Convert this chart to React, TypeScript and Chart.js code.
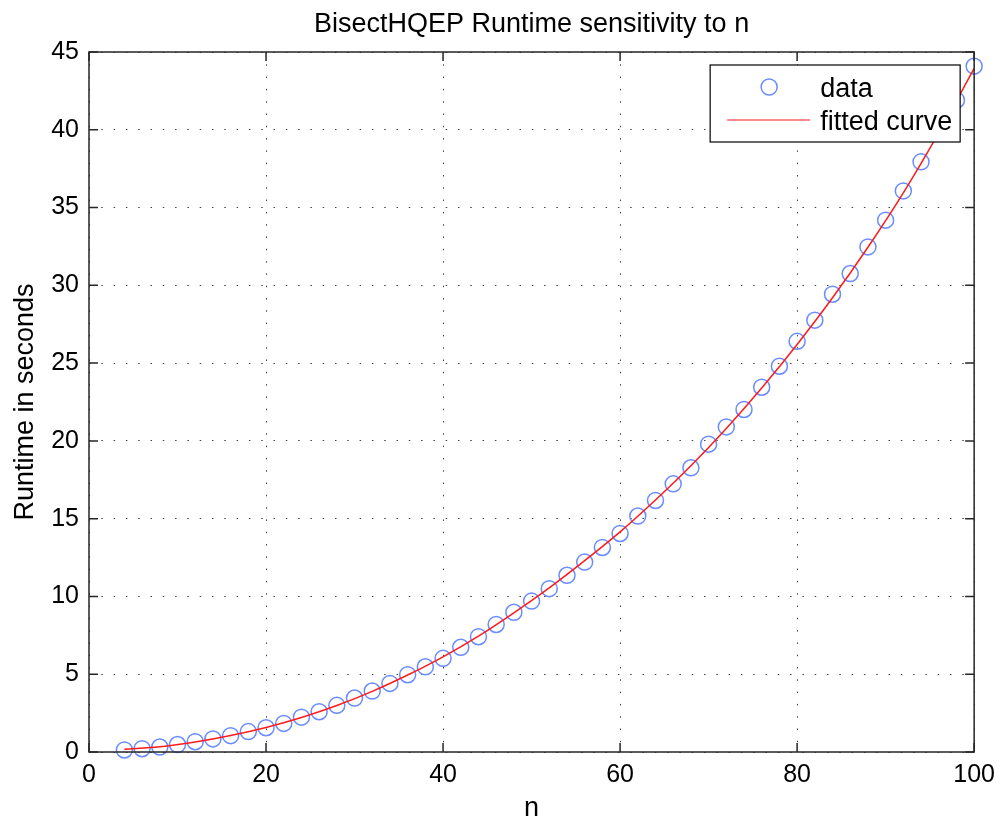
import React, { useEffect, useRef } from "react";
import { Chart, registerables } from "chart.js";

Chart.register(...registerables);

const TITLE = "BisectHQEP Runtime sensitivity to n";
const X_LABEL = "n";
const Y_LABEL = "Runtime in seconds";
const LEGEND_DATA = "data";
const LEGEND_FIT = "fitted curve";

const nValues = [
  4, 6, 8, 10, 12, 14, 16, 18, 20, 22, 24, 26, 28, 30, 32, 34, 36, 38, 40, 42,
  44, 46, 48, 50, 52, 54, 56, 58, 60, 62, 64, 66, 68, 70, 72, 74, 76, 78, 80,
  82, 84, 86, 88, 90, 92, 94, 96, 98, 100,
];
const runtimes = [
  0.13, 0.21, 0.32, 0.48, 0.66, 0.84, 1.05, 1.31, 1.56, 1.84, 2.24, 2.59, 3.0,
  3.47, 3.92, 4.41, 4.97, 5.48, 6.02, 6.73, 7.41, 8.2, 8.98, 9.7, 10.5, 11.36,
  12.21, 13.15, 14.05, 15.17, 16.17, 17.24, 18.27, 19.79, 20.9, 22.02, 23.45,
  24.8, 26.4, 27.76, 29.43, 30.76, 32.47, 34.19, 36.07, 37.94, 39.95, 41.9,
  44.09,
];
const fitN = [
  4, 8, 12, 16, 20, 24, 28, 32, 36, 40, 44, 48, 52, 56, 60, 64, 68, 72, 76, 80,
  84, 88, 92, 96, 100,
];
const fitRuntime = [
  0.17, 0.33, 0.64, 1.06, 1.58, 2.22, 2.99, 3.9, 4.95, 6.12, 7.45, 8.95, 10.55,
  12.3, 14.15, 16.2, 18.4, 20.8, 23.4, 26.2, 29.2, 32.45, 35.95, 39.8, 43.95,
];

const X_MIN = 0;
const X_MAX = 100;
const X_STEP = 20;
const Y_MIN = 0;
const Y_MAX = 45;
const Y_STEP = 5;

const FONT = '"Liberation Sans", Arial, Helvetica, sans-serif';
const BLUE = "#6a8cff";
const RED = "#ff1a1a";
const AXIS = "#262626";

const framePlugin = {
  id: "matlabFrame",
  afterDatasetsDraw(chart: any) {
    const ctx = chart.ctx;
    const { left, right, top, bottom } = chart.chartArea;
    const xs = chart.scales.x;
    const ys = chart.scales.y;
    ctx.save();
    ctx.strokeStyle = AXIS;
    ctx.lineWidth = 1.5;
    ctx.strokeRect(left, top, right - left, bottom - top);
    const tl = 9;
    ctx.beginPath();
    xs.ticks.forEach((t: any) => {
      const px = xs.getPixelForValue(t.value);
      ctx.moveTo(px, bottom);
      ctx.lineTo(px, bottom - tl);
      ctx.moveTo(px, top);
      ctx.lineTo(px, top + tl);
    });
    ys.ticks.forEach((t: any) => {
      const py = ys.getPixelForValue(t.value);
      ctx.moveTo(left, py);
      ctx.lineTo(left + tl, py);
      ctx.moveTo(right, py);
      ctx.lineTo(right - tl, py);
    });
    ctx.stroke();
    ctx.restore();
  },
  afterDraw(chart: any) {
    const ctx = chart.ctx;
    const { left, right, top, bottom } = chart.chartArea;
    const cx = (left + right) / 2;
    ctx.save();
    ctx.fillStyle = "#000";
    ctx.font = `27px ${FONT}`;
    ctx.textAlign = "center";
    ctx.textBaseline = "alphabetic";
    ctx.fillText(TITLE, cx, 32);
    ctx.fillText(X_LABEL, cx, 816);
    ctx.save();
    ctx.translate(33, (top + bottom) / 2);
    ctx.rotate(-Math.PI / 2);
    ctx.fillText(Y_LABEL, 0, 0);
    ctx.restore();

    // legend
    const lw = 250;
    const lh = 77;
    const lx = right - 14 - lw;
    const ly = top + 13;
    ctx.fillStyle = "#fff";
    ctx.fillRect(lx, ly, lw, lh);
    ctx.strokeStyle = "#000";
    ctx.lineWidth = 1.2;
    ctx.strokeRect(lx, ly, lw, lh);
    ctx.strokeStyle = BLUE;
    ctx.lineWidth = 1.5;
    ctx.beginPath();
    ctx.arc(lx + 59, ly + 22, 8, 0, Math.PI * 2);
    ctx.stroke();
    ctx.strokeStyle = RED;
    ctx.lineWidth = 1.2;
    ctx.beginPath();
    ctx.moveTo(lx + 17, ly + 55);
    ctx.lineTo(lx + 100, ly + 55);
    ctx.stroke();
    ctx.fillStyle = "#000";
    ctx.textAlign = "left";
    ctx.font = `27px ${FONT}`;
    ctx.fillText(LEGEND_DATA, lx + 110, ly + 32);
    ctx.fillText(LEGEND_FIT, lx + 110, ly + 65);
    ctx.restore();
  },
};

export default function App() {
  const ref = useRef<HTMLCanvasElement | null>(null);
  useEffect(() => {
    if (!ref.current) return;
    const chart = new Chart(ref.current, {
      type: "scatter",
      data: {
        datasets: [
          {
            label: LEGEND_DATA,
            data: nValues.map((n, i) => ({ x: n, y: runtimes[i] })),
            showLine: false,
            pointStyle: "circle",
            pointRadius: 8,
            pointBorderWidth: 1.5,
            pointBorderColor: BLUE,
            pointBackgroundColor: "rgba(0,0,0,0)",
            borderColor: BLUE,
            clip: false as any,
            order: 2,
          },
          {
            label: LEGEND_FIT,
            data: fitN.map((n, i) => ({ x: n, y: fitRuntime[i] })),
            showLine: true,
            pointRadius: 0,
            borderColor: RED,
            borderWidth: 1.5,
            cubicInterpolationMode: "monotone",
            fill: false,
            order: 1,
          },
        ],
      },
      options: {
        animation: false,
        responsive: false,
        devicePixelRatio: 1,
        layout: { padding: { left: 0, top: 52, right: 27, bottom: 0 } },
        plugins: {
          legend: { display: false },
          tooltip: { enabled: false },
          title: { display: false },
        },
        scales: {
          x: {
            type: "linear",
            min: X_MIN,
            max: X_MAX,
            ticks: {
              stepSize: X_STEP,
              font: { size: 25, family: FONT },
              color: "#000",
              padding: 8,
              maxRotation: 0,
            },
            grid: {
              color: "rgba(0,0,0,0.75)",
              lineWidth: 1,
              drawTicks: false,
            },
            border: { display: false, dash: [1.5, 10.8] },
            afterFit(s: any) {
              s.height = 71;
            },
          },
          y: {
            type: "linear",
            min: Y_MIN,
            max: Y_MAX,
            ticks: {
              stepSize: Y_STEP,
              font: { size: 25, family: FONT },
              color: "#000",
              padding: 10,
            },
            grid: {
              color: "rgba(0,0,0,0.75)",
              lineWidth: 1,
              drawTicks: false,
            },
            border: { display: false, dash: [1.5, 10.8] },
            afterFit(s: any) {
              s.width = 89;
            },
          },
        },
      },
      plugins: [framePlugin],
    });
    return () => chart.destroy();
  }, []);
  return (
    <div style={{ position: "fixed", left: 0, top: 0, width: 1003, height: 823, background: "#fff" }}>
      <canvas ref={ref} width={1003} height={823} style={{ display: "block" }} />
    </div>
  );
}
